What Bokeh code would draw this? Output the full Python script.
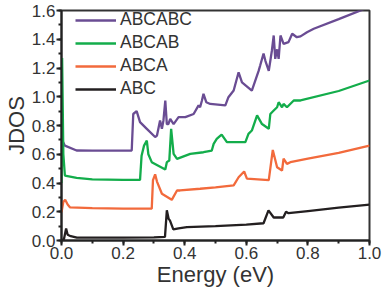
from bokeh.plotting import figure
from bokeh.models import SingleIntervalTicker, NumeralTickFormatter, Range1d, Legend, LegendItem
from bokeh.embed import file_html
from bokeh.resources import INLINE

# ABC (black)
abc_x = [0.0, 0.008, 0.015, 0.02, 0.03, 0.05, 0.1, 0.2, 0.3, 0.336, 0.342, 0.348, 0.352, 0.363, 0.38, 0.407,
         0.5, 0.6, 0.656, 0.672, 0.689, 0.72, 0.729, 0.737, 0.8, 0.9, 1.0]
abc_y = [0.0, 0.01, 0.083, 0.04, 0.03, 0.02, 0.02, 0.02, 0.022, 0.025, 0.21, 0.15, 0.14, 0.077, 0.085, 0.093,
         0.1, 0.11, 0.12, 0.21, 0.16, 0.16, 0.2, 0.19, 0.205, 0.228, 0.25]

# ABCA (orange)
abca_x = [0.0, 0.006, 0.012, 0.02, 0.028, 0.1, 0.2, 0.293, 0.297, 0.304, 0.31, 0.326, 0.358, 0.375, 0.385,
          0.45, 0.5, 0.559, 0.575, 0.593, 0.602, 0.673, 0.686, 0.7, 0.716, 0.721, 0.732, 0.743, 0.8, 0.9, 1.0]
abca_y = [0.197, 0.27, 0.283, 0.25, 0.23, 0.225, 0.222, 0.222, 0.42, 0.46, 0.41, 0.325, 0.283, 0.348, 0.348,
          0.36, 0.37, 0.383, 0.44, 0.48, 0.43, 0.42, 0.63, 0.51, 0.487, 0.57, 0.533, 0.545, 0.57, 0.61, 0.66]

# ABCAB (green)
abcab_x = [0.0, 0.002, 0.006, 0.011, 0.049, 0.1, 0.2, 0.255, 0.26, 0.268, 0.277, 0.282, 0.293, 0.337, 0.342,
           0.35, 0.356, 0.364, 0.375, 0.418, 0.461, 0.488, 0.494, 0.504, 0.516, 0.52, 0.537, 0.548, 0.597,
           0.607, 0.618, 0.635, 0.651, 0.673, 0.678, 0.689, 0.7, 0.705, 0.716, 0.721, 0.732, 0.754, 0.776,
           0.9, 1.0]
abcab_y = [0.4, 1.27, 0.6, 0.452, 0.436, 0.425, 0.422, 0.422, 0.59, 0.66, 0.695, 0.6, 0.545, 0.494, 0.545,
           0.556, 0.777, 0.603, 0.568, 0.603, 0.614, 0.626, 0.672, 0.707, 0.73, 0.737, 0.684, 0.684, 0.684,
           0.742, 0.765, 0.87, 0.81, 0.777, 0.88, 0.904, 0.927, 0.962, 0.927, 0.95, 0.927, 0.974, 0.974,
           1.04, 1.113]

# ABCABC (purple)
abcabc_x = [0.0, 0.002, 0.011, 0.049, 0.1, 0.2, 0.228, 0.233, 0.244, 0.255, 0.277, 0.304, 0.31, 0.32, 0.326,
            0.331, 0.337, 0.342, 0.347, 0.353, 0.364, 0.38, 0.402, 0.429, 0.445, 0.45, 0.456, 0.461, 0.47,
            0.483, 0.532, 0.542, 0.559, 0.575, 0.586, 0.618, 0.64, 0.645, 0.656, 0.662, 0.673, 0.683, 0.689,
            0.694, 0.7, 0.705, 0.711, 0.721, 0.737, 0.749, 0.764, 0.776, 0.797, 0.819, 0.9, 1.0]
abcabc_y = [0.78, 0.7, 0.66, 0.626, 0.625, 0.625, 0.626, 0.88, 0.9, 0.823, 0.777, 0.72, 0.73, 0.835, 0.777,
            0.835, 0.974, 0.81, 0.81, 0.846, 0.81, 0.858, 0.858, 0.88, 0.94, 0.927, 0.974, 1.02, 0.962,
            0.95, 0.94, 0.997, 1.043, 1.17, 1.1, 1.043, 1.18, 1.217, 1.3, 1.25, 1.18, 1.32, 1.426,
            1.264, 1.33, 1.264, 1.426, 1.368, 1.38, 1.438, 1.414, 1.42, 1.449, 1.473, 1.54, 1.625]

series = [
    ("ABCABC", abcabc_x, abcabc_y, "#6a4c93"),
    ("ABCAB", abcab_x, abcab_y, "#13ad4b"),
    ("ABCA", abca_x, abca_y, "#f26a3c"),
    ("ABC", abc_x, abc_y, "#231f20"),
]

FONT = "Liberation Sans"
FRAME_H = 230

p = figure(frame_width=308, frame_height=FRAME_H, output_backend="svg", toolbar_location=None,
           x_range=Range1d(0, 1.0), y_range=Range1d(0, 1.6),
           min_border_left=61, min_border_right=13, min_border_top=10, min_border_bottom=56)

items = []
for name, xs, ys, col in series:
    r = p.line(xs, ys, line_color=col, line_width=2.3)
    items.append(LegendItem(label=name, renderers=[r]))

p.grid.visible = False
p.outline_line_color = "#333333"
p.outline_line_width = 2
p.background_fill_color = "white"
p.border_fill_color = "white"

for ax in (p.xaxis[0], p.yaxis[0]):
    ax.ticker = SingleIntervalTicker(interval=0.2, num_minor_ticks=2)
    ax.formatter = NumeralTickFormatter(format="0.0")
    ax.axis_line_color = "#222222"
    ax.axis_line_width = 2
    ax.major_tick_line_color = "#222222"
    ax.major_tick_line_width = 2
    ax.minor_tick_line_color = "#222222"
    ax.minor_tick_line_width = 2
    ax.major_tick_out = 5
    ax.major_tick_in = 0
    ax.minor_tick_out = 3
    ax.minor_tick_in = 0
    ax.major_label_text_font = FONT
    ax.major_label_text_font_size = "17px"
    ax.major_label_text_color = "#333333"
    ax.axis_label_text_font = FONT
    ax.axis_label_text_font_size = "22px"
    ax.axis_label_text_font_style = "normal"
    ax.axis_label_text_color = "#333333"
    ax.major_label_standoff = 1

p.xaxis.axis_label = "Energy (eV)"
p.yaxis.axis_label = "JDOS"
p.xaxis.axis_label_standoff = 0
p.yaxis.axis_label_standoff = 0

PAD = 2
ITEM_H = 20
SPACING = 2
legend_h = 2 * PAD + 4 * ITEM_H + 3 * SPACING
legend = Legend(items=items)
legend.label_text_font = FONT
legend.label_text_font_size = "17.5px"
legend.label_text_color = "#333333"
legend.border_line_alpha = 0
legend.background_fill_alpha = 0
legend.glyph_width = 41
legend.glyph_height = ITEM_H
legend.label_height = ITEM_H
legend.spacing = SPACING
legend.padding = PAD
legend.margin = 0
legend.label_standoff = 4
legend.location = (12, FRAME_H - 1 - legend_h)
p.add_layout(legend)

open("out.html", "w").write(file_html(p, INLINE))
